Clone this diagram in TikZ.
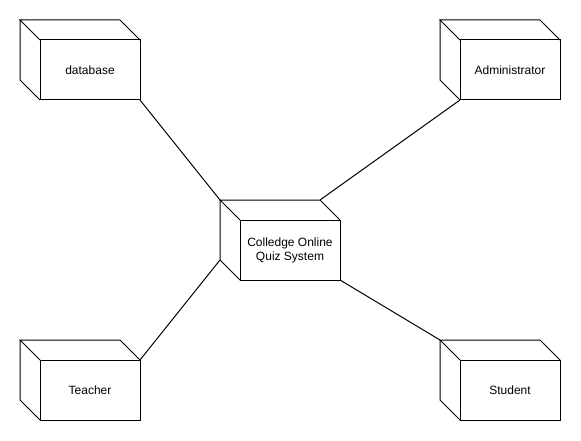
\documentclass[tikz,border=0pt]{standalone}
\usepackage{fontspec}
\setmainfont{Liberation Sans}
\usepackage{tikz}
\usetikzlibrary{positioning}
\tikzset{%
	every path/.style = {line width = 1pt},
	dev/.style = {name = #1, draw, outer sep = 0pt, minimum width = 100, minimum height = 60,
		align = center, font = \fontsize{12}{14}\selectfont,
		append after command = {\pgfextra{
			\draw (#1.north west) -- ++(-20,-20) coordinate (#1 back nw)
				-- ++(100,0) coordinate (#1 back ne) -- (#1.north east);
			\draw (#1 back nw) -- ++(0,60) coordinate (#1 back sw) -- (#1.south west);
		}}}
}

\begin{document}
\begin{tikzpicture}[x=1pt,y=-1pt]
			\useasboundingbox (0,0) rectangle (581,441);
			\node [dev = {db}] at (90,70) {database};
			\node [dev = {admin}] at (510,70) {Administrator};
			\node [dev = {quiz}] at (290,250) {Colledge Online\\Quiz System};
			\node [dev = {teacher}] at (90,390) {Teacher};
			\node [dev = {student}] at (510,390) {Student};
			\draw (db.south east) -- (quiz back nw);
			\draw (admin.south west) -- (quiz back ne);
			\draw (teacher.north east) -- (quiz back sw);
			\draw (student back nw) -- (quiz.south east);
\end{tikzpicture}
\end{document}
